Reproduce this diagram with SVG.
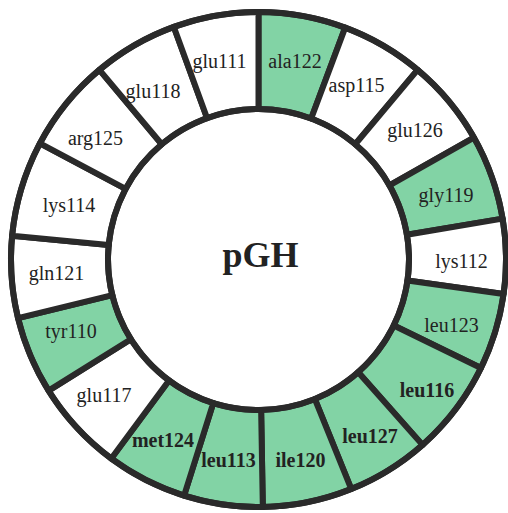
<svg xmlns="http://www.w3.org/2000/svg" width="508" height="513" viewBox="0 0 508 513">
<style>
.seg{stroke:#2a2a2a;stroke-width:6;stroke-linejoin:round}
.g{fill:#82d3a5}
.w{fill:#ffffff}
.lbl{font-family:"Liberation Serif","Times New Roman",serif;font-size:20px;fill:#222;text-anchor:middle}
.b{font-weight:bold}
.ring{fill:none;stroke:#2a2a2a;stroke-width:6}
</style>
<rect width="508" height="513" fill="#fff"/>
<g id="ala122"><path class="seg g" d="M258.5,12 A247.5,247.5 0 0 1 345.17,27.67 L311.2,118.53 A150.5,150.5 0 0 0 258.5,109 Z"/><text class="lbl" x="295" y="68">ala122</text></g>
<g id="asp115"><path class="seg w" d="M345.17,27.67 A247.5,247.5 0 0 1 417.59,69.9 L355.24,144.21 A150.5,150.5 0 0 0 311.2,118.53 Z"/><text class="lbl" x="356.5" y="92">asp115</text></g>
<g id="glu126"><path class="seg w" d="M417.59,69.9 A247.5,247.5 0 0 1 473.92,137.63 L389.5,185.39 A150.5,150.5 0 0 0 355.24,144.21 Z"/><text class="lbl" x="415" y="137">glu126</text></g>
<g id="gly119"><path class="seg g" d="M473.92,137.63 A247.5,247.5 0 0 1 502.61,218.66 L406.94,234.67 A150.5,150.5 0 0 0 389.5,185.39 Z"/><text class="lbl" x="446" y="202">gly119</text></g>
<g id="lys112"><path class="seg w" d="M502.61,218.66 A247.5,247.5 0 0 1 503.59,293.95 L407.54,280.45 A150.5,150.5 0 0 0 406.94,234.67 Z"/><text class="lbl" x="461.5" y="268">lys112</text></g>
<g id="leu123"><path class="seg g" d="M503.59,293.95 A247.5,247.5 0 0 1 480.95,368 L393.77,325.48 A150.5,150.5 0 0 0 407.54,280.45 Z"/><text class="lbl" x="451.5" y="332">leu123</text></g>
<g id="leu116"><path class="seg g" d="M480.95,368 A247.5,247.5 0 0 1 422.49,444.88 L358.22,372.22 A150.5,150.5 0 0 0 393.77,325.48 Z"/><text class="lbl b" x="427" y="397">leu116</text></g>
<g id="leu127"><path class="seg g" d="M422.49,444.88 A247.5,247.5 0 0 1 351.21,488.98 L314.88,399.04 A150.5,150.5 0 0 0 358.22,372.22 Z"/><text class="lbl b" x="370" y="443">leu127</text></g>
<g id="ile120"><path class="seg g" d="M351.21,488.98 A247.5,247.5 0 0 1 262.82,506.96 L261.13,409.98 A150.5,150.5 0 0 0 314.88,399.04 Z"/><text class="lbl b" x="300.5" y="467">ile120</text></g>
<g id="leu113"><path class="seg g" d="M262.82,506.96 A247.5,247.5 0 0 1 184.08,495.54 L213.24,403.03 A150.5,150.5 0 0 0 261.13,409.98 Z"/><text class="lbl b" x="228.5" y="467">leu113</text></g>
<g id="met124"><path class="seg g" d="M184.08,495.54 A247.5,247.5 0 0 1 111.29,458.47 L168.98,380.49 A150.5,150.5 0 0 0 213.24,403.03 Z"/><text class="lbl b" x="163" y="447">met124</text></g>
<g id="glu117"><path class="seg w" d="M111.29,458.47 A247.5,247.5 0 0 1 48.62,390.65 L130.88,339.25 A150.5,150.5 0 0 0 168.98,380.49 Z"/><text class="lbl" x="104" y="402">glu117</text></g>
<g id="tyr110"><path class="seg g" d="M48.62,390.65 A247.5,247.5 0 0 1 18.05,318.11 L112.29,295.14 A150.5,150.5 0 0 0 130.88,339.25 Z"/><text class="lbl" x="71" y="338">tyr110</text></g>
<g id="gln121"><path class="seg w" d="M18.05,318.11 A247.5,247.5 0 0 1 12.14,235.79 L108.69,245.08 A150.5,150.5 0 0 0 112.29,295.14 Z"/><text class="lbl" x="56.5" y="280">gln121</text></g>
<g id="lys114"><path class="seg w" d="M12.14,235.79 A247.5,247.5 0 0 1 39.98,143.3 L125.62,188.84 A150.5,150.5 0 0 0 108.69,245.08 Z"/><text class="lbl" x="69" y="212">lys114</text></g>
<g id="arg125"><path class="seg w" d="M39.98,143.3 A247.5,247.5 0 0 1 99.41,69.9 L161.76,144.21 A150.5,150.5 0 0 0 125.62,188.84 Z"/><text class="lbl" x="95.5" y="145">arg125</text></g>
<g id="glu118"><path class="seg w" d="M99.41,69.9 A247.5,247.5 0 0 1 173.85,26.92 L207.03,118.08 A150.5,150.5 0 0 0 161.76,144.21 Z"/><text class="lbl" x="153" y="98">glu118</text></g>
<g id="glu111"><path class="seg w" d="M173.85,26.92 A247.5,247.5 0 0 1 258.5,12 L258.5,109 A150.5,150.5 0 0 0 207.03,118.08 Z"/><text class="lbl" x="219.5" y="68">glu111</text></g>
<g id="rings"><circle class="ring" cx="258.5" cy="259.5" r="247.5"/><circle class="ring" cx="258.5" cy="259.5" r="150.5"/></g>
<g id="pGH"><text x="260.5" y="267" style="font-family:'Liberation Serif','Times New Roman',serif;font-size:36px;font-weight:bold;fill:#222;text-anchor:middle">pGH</text></g>
<g id="connectors"/>
</svg>
